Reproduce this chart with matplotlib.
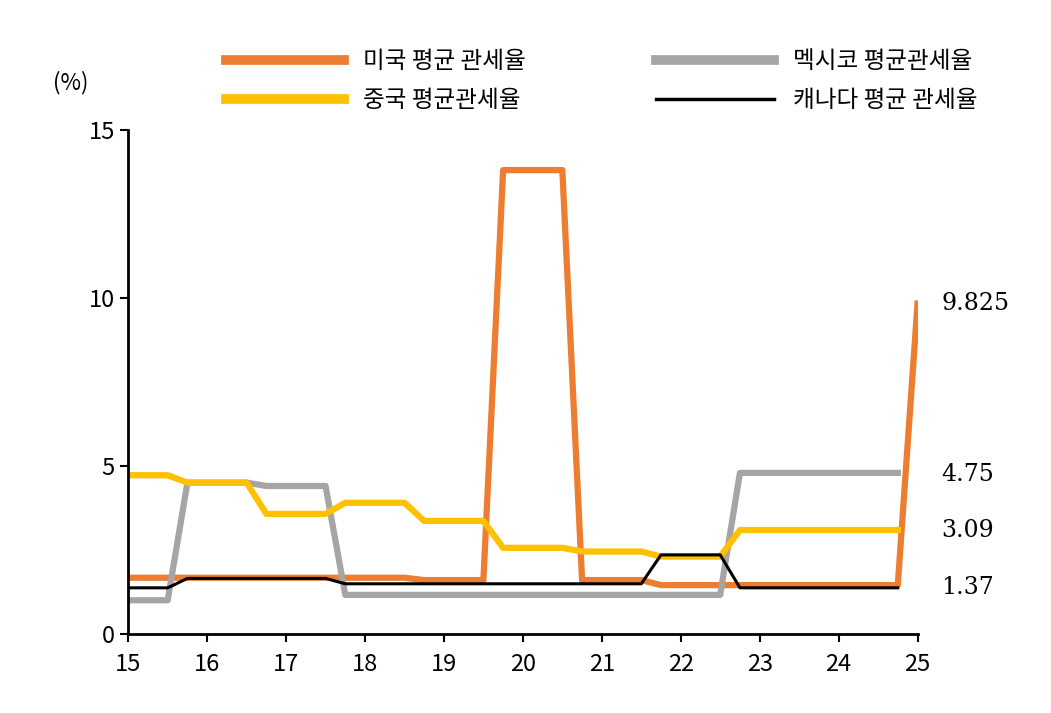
import numpy as np
import matplotlib
matplotlib.use("Agg")
import matplotlib.pyplot as plt
plt.rcParams['font.family'] = ['Noto Sans CJK KR', 'Noto Sans CJK JP', 'Noto Sans CJK SC', 'DejaVu Sans']

years = [15 + 0.25*i for i in range(41)]
nan = np.nan
us = [1.67]*15 + [1.6]*4 + [13.8]*4 + [1.6]*4 + [1.45]*13 + [9.825]
mexico = [1.0]*3 + [4.5]*4 + [4.4]*4 + [1.16]*20 + [4.79]*9 + [nan]
china = [4.72]*3 + [4.5]*4 + [3.57]*4 + [3.9]*4 + [3.36]*4 + [2.56]*4 + [2.45]*4 + [2.3]*4 + [3.09]*9 + [nan]
canada = [1.37]*3 + [1.65]*8 + [1.49]*16 + [2.35]*4 + [1.37]*9 + [nan]
end_labels = ["9.825", "4.75", "3.09", "1.37"]
end_vals = [9.825, 4.75, 3.09, 1.37]

fig = plt.figure(figsize=(10.51, 7.13), dpi=100)
ax = fig.add_axes([0.122, 0.111, 0.751, 0.707])
l_us, = ax.plot(years, us, color='#ED7D31', lw=4.5, label='미국 평균 관세율')
l_mx, = ax.plot(years, mexico, color='#A5A5A5', lw=4.5, label='멕시코 평균관세율')
l_cn, = ax.plot(years, china, color='#FFC000', lw=4.5, label='중국 평균관세율')
l_ca, = ax.plot(years, canada, color='black', lw=2.2, label='캐나다 평균 관세율')
ax.set_xlim(15, 25)
ax.set_ylim(0, 15)
ax.set_xticks(range(15, 26))
ax.set_yticks([0, 5, 10, 15])
for s in ['top', 'right']:
    ax.spines[s].set_visible(False)
for s in ['left', 'bottom']:
    ax.spines[s].set_linewidth(2)
ax.tick_params(labelsize=17, width=1.5, length=6)
ax.tick_params(axis='x', pad=8)
for lab, v in zip(end_labels, end_vals):
    ax.text(1.03, v, lab, transform=ax.get_yaxis_transform(), fontsize=17,
            va='center', ha='left', fontfamily='DejaVu Serif')
fig.text(0.05, 0.875, '(%)', fontsize=16)
import matplotlib.lines as mlines
h = [mlines.Line2D([], [], color=l.get_color(), lw=(7 if l is not l_ca else 2.5), label=l.get_label())
     for l in [l_us, l_cn, l_mx, l_ca]]
fig.legend(handles=h, ncol=2, loc='upper left', bbox_to_anchor=(0.195, 0.96),
           frameon=False, fontsize=17, handlelength=5, columnspacing=5.5, labelspacing=0.7)
fig.savefig('out.png', dpi=100)
